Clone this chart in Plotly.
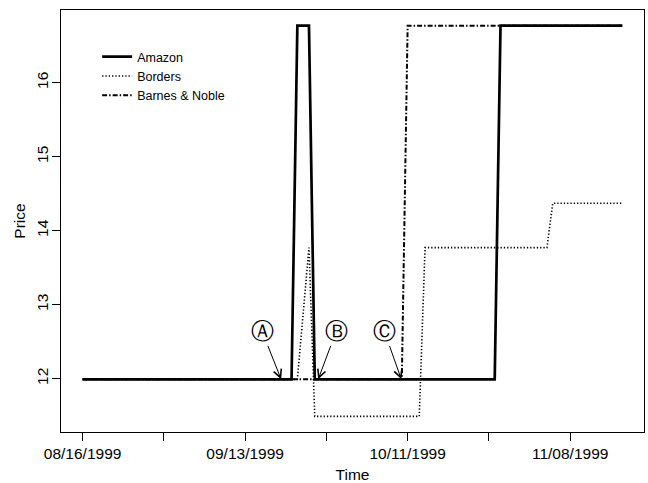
import pandas as pd
import plotly.graph_objects as go

# ---- data (change points; lines connect consecutive daily observations) ----
amazon_dates = ["1999-08-16", "1999-09-21", "1999-09-22", "1999-09-24", "1999-09-25",
                "1999-10-26", "1999-10-27", "1999-11-17"]
amazon_price = [11.99, 11.99, 16.77, 16.77, 11.99, 11.99, 16.77, 16.77]

borders_dates = ["1999-08-16", "1999-09-22", "1999-09-24", "1999-09-25", "1999-10-13",
                 "1999-10-14", "1999-11-04", "1999-11-05", "1999-11-17"]
borders_price = [11.99, 11.99, 13.77, 11.49, 11.49, 13.77, 13.77, 14.37, 14.37]

bn_dates = ["1999-08-16", "1999-10-10", "1999-10-11", "1999-11-17"]
bn_price = [11.99, 11.99, 16.77, 16.77]

tick_dates = ["1999-08-16", "1999-08-30", "1999-09-13", "1999-09-27",
              "1999-10-11", "1999-10-25", "1999-11-08"]
tick_labels = ["08/16/1999", "", "09/13/1999", "", "10/11/1999", "", "11/08/1999"]

event_labels = ["\u24b6", "\u24b7", "\u24b8"]
event_dates = ["1999-09-19 05:00", "1999-09-25 14:00", "1999-10-09 22:00"]
event_price = [11.99, 11.99, 11.99]
event_dx = [-19, 18, -17]

FONT = "Liberation Sans, Arial, Helvetica, sans-serif"

fig = go.Figure()
fig.add_trace(go.Scatter(x=pd.to_datetime(amazon_dates), y=amazon_price, mode="lines",
                         name="Amazon", line=dict(color="black", width=2.7)))
fig.add_trace(go.Scatter(x=pd.to_datetime(borders_dates), y=borders_price, mode="lines",
                         name="Borders", line=dict(color="black", width=1.6, dash="1.3px,2px")))
fig.add_trace(go.Scatter(x=pd.to_datetime(bn_dates), y=bn_price, mode="lines",
                         name="Barnes & Noble",
                         line=dict(color="black", width=2, dash="5px,2px,1.5px,2px")))

# R-style 4% padding of data ranges
all_dates = pd.to_datetime(amazon_dates + borders_dates + bn_dates)
dmin, dmax = all_dates.min(), all_dates.max()
dpad = (dmax - dmin) * 0.04
all_p = amazon_price + borders_price + bn_price
pmin, pmax = min(all_p), max(all_p)
ppad = (pmax - pmin) * 0.04

for lab, d, p, dx in zip(event_labels, event_dates, event_price, event_dx):
    fig.add_annotation(x=pd.Timestamp(d), y=p, text=lab, showarrow=True,
                       ax=dx, ay=-48, arrowhead=5, arrowsize=1.6, arrowwidth=1,
                       arrowcolor="black", font=dict(family="DejaVu Sans", size=23, color="black"))

fig.update_layout(
    width=648, height=483,
    margin=dict(l=61, r=4, t=10, b=51, autoexpand=False),
    paper_bgcolor="white", plot_bgcolor="white",
    font=dict(family=FONT, size=15, color="black"),
    showlegend=True,
    legend=dict(x=0.062, y=0.924, xanchor="left", yanchor="top",
                bgcolor="rgba(0,0,0,0)", font=dict(size=12.5, family=FONT),
                tracegroupgap=0),
    xaxis=dict(type="date", range=[dmin - dpad, dmax + dpad],
               tickvals=pd.to_datetime(tick_dates), ticktext=tick_labels,
               ticks="outside", ticklen=8, tickcolor="black", tickwidth=1,
               tickfont=dict(size=15.5), ticklabelstandoff=-1,
               showline=True, linecolor="black", linewidth=1, mirror=True,
               showgrid=False, zeroline=False, automargin=False,
               title=dict(text="Time", standoff=8, font=dict(size=15.5))),
    yaxis=dict(range=[pmin - ppad, pmax + ppad], tickvals=[12, 13, 14, 15, 16],
               ticks="outside", ticklen=8, tickcolor="black", tickwidth=1, tickangle=-90,
               tickfont=dict(size=15.5), ticklabelstandoff=-2,
               showline=True, linecolor="black", linewidth=1, mirror=True,
               showgrid=False, zeroline=False, automargin=False,
               title=dict(text="Price", standoff=4, font=dict(size=15.5))),
)

fig.write_html("out.html", config={"displayModeBar": False},
               post_script="document.body.style.margin='0';document.body.style.overflow='hidden';")
